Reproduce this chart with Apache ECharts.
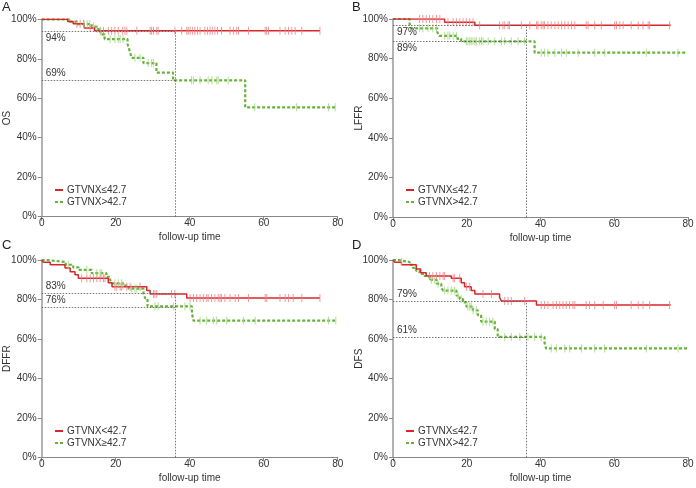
<!DOCTYPE html>
<html><head><meta charset="utf-8">
<script src="https://cdn.jsdelivr.net/npm/echarts@6/dist/echarts.min.js"></script>
<style>html,body{margin:0;padding:0;background:#fff}#c{width:696px;height:488px}</style>
</head><body><div id="c"></div>
<script>
// ---- Panel A: OS ----
const A_red_t = [0, 7, 8.5, 11.5, 14.3];
const A_red_s = [100, 98.9, 97.8, 95.6, 94.2];
const A_red_end = 75.2;
const A_red_c = [9.5,10.4,11.3,13.1,15.8,16.7,18,18.9,19.8,20.7,21.9,22.5,23,25.7,29.3,29.7,30.2,31.1,31.5,36,37.8,39.2,39.6,40.1,40.8,41.4,42.1,42.8,44.1,44.8,45.5,46.1,46.8,47.5,48.6,50.9,51.8,52.7,53.2,55.9,60.4,60.8,61.3,64.4,65.8,66.7,67.6,68.5,70.3,75.2];
const A_grn_t = [0, 7.5, 9.5, 13.5, 14.8, 15.5, 16.3, 17, 23.2, 23.6, 24, 24.3, 27.5, 31, 35.5, 55];
const A_grn_s = [100, 98.8, 97.6, 96.3, 95, 93.7, 92.4, 90, 87.5, 85, 82.5, 80.5, 77.8, 73, 69.1, 55.4];
const A_grn_end = 79.7;
const A_grn_c = [11.5,12.3,13,14,15,16,18.5,19.8,20.7,21.2,22,25.2,26.6,28.8,29.7,30.2,40.5,41,42.8,45,46,47.3,47.7,50.4,57.6,68.9,77.5,79.3];
const A_ref = [94, 69];

// ---- Panel B: LFFR ----
const B_red_t = [0, 14, 22.2];
const B_red_s = [100, 98.3, 96.8];
const B_red_end = 75.3;
const B_red_c = [7.2,8.1,9,9.9,10.8,11.8,12.7,14.9,16.3,17.2,18.1,19,19.9,20.8,21.7,23.5,28.9,29.8,30.3,31.2,31.6,34.8,37.1,38.9,39.3,40.2,40.7,41.1,42,42.9,43.9,44.8,45.7,46.6,47.5,48.4,49.3,52.4,52.9,54.7,56.5,60.1,60.6,61.5,62.4,64.6,66.5,67.8,69.2,69.6,75];
const B_grn_t = [0, 4.5, 5, 12, 12.5, 17.5, 18.5, 38.4];
const B_grn_s = [100, 97.5, 95.3, 93.5, 91.5, 90, 88.7, 83];
const B_grn_end = 79.8;
const B_grn_c = [7.2,8.1,9.5,10.8,11.8,14,14.9,15.4,16.3,17.2,19.9,20.3,20.8,21.2,21.7,22.2,22.6,23.5,24,24.4,25.8,27.6,29.4,30.3,32.1,33.9,35.7,40.2,41.1,42,43.9,45.7,47,50.2,54.7,57.4,68.7,77.3];
const B_ref = [97, 89];

// ---- Panel C: DFFR ----
const C_red_t = [0, 0.5, 2.3, 6.3, 7.7, 9, 9.9, 18, 19, 28.4, 29.3, 39.2];
const C_red_s = [100, 98.8, 97.6, 96, 94, 92.5, 90.7, 88.5, 86.5, 84.5, 82.8, 80.7];
const C_red_end = 75.2;
const C_red_c = [10.8,12.2,13.1,14,14.9,15.8,16.7,17.1,19.8,20.3,21.2,21.6,23,23.9,26.6,30.2,30.6,31.1,35.1,36,40.1,41,41.9,42.8,43.7,44.6,45,45.9,46.8,47.7,48.2,48.6,49.5,50.9,52.3,53.2,55.9,60.4,60.8,64.4,65.8,66.7,68,70.3,75.2];
const C_grn_t = [0, 1.5, 6.5, 8.5, 10, 13.5, 17.5, 18.5, 19, 22, 23.5, 27.5, 28, 28.6, 40.6, 41];
const C_grn_s = [100, 99, 97.6, 96.3, 95, 93.3, 91.5, 89.8, 88.2, 87, 85.5, 83, 80.5, 76.5, 73, 69.3];
const C_grn_end = 79.7;
const C_grn_c = [7.2,12.2,14.9,15.8,16.2,19.8,20.7,21.6,22,24.3,25.2,25.7,30.6,31.5,35.6,38.7,40.1,42.8,44.6,46.4,47.3,50,54.5,57.7,77.5,79.5];
const C_ref = [83, 76];

// ---- Panel D: DFS ----
const D_red_t = [0, 0.5, 2.3, 6.3, 7.5, 9, 15.8, 18.5, 19.4, 21.2, 22.2, 28.9, 29.4, 38.9];
const D_red_s = [100, 98.8, 97.6, 95.5, 93.5, 91.9, 90.7, 88.5, 86.5, 84.5, 82.8, 81, 79.2, 77.2];
const D_red_end = 75.3;
const D_red_c = [9.9,10.8,11.8,12.7,13.6,14,16.3,16.7,18.1,19.9,20.8,24.4,26.7,30.3,31.2,32.1,35.7,40.2,41.1,42,43.4,44.3,45.2,46.1,47,47.9,48.8,49.3,52.4,53.3,54.7,57,60.1,60.6,64.6,66.5,67.8,69.6,75];
const D_grn_t = [0, 1.4, 4.5, 5.4, 6.3, 7.2, 8.1, 9.9, 11.8, 13.1, 13.6, 17.2, 18.1, 19, 19.9, 21.7, 23, 23.9, 27.6, 28.4, 41.1, 41.5];
const D_grn_s = [100, 99, 97.5, 96, 94.5, 93, 91.9, 90, 88, 86, 84.5, 82, 80.2, 78.5, 76.4, 74.5, 72, 68.8, 65, 61, 58, 55.2];
const D_grn_end = 79.8;
const D_grn_c = [2.3,10.4,11.3,12.2,14,14.9,15.8,16.7,17.6,18.5,20.3,20.8,21.2,21.7,22.6,24.4,25.3,26.2,27.1,30.3,32.1,34.4,36.6,38.4,40.2,42.9,44.3,46.6,47.9,51.1,54.7,57.4,68.7,77.3];
const D_ref = [79, 61];

const refTime = 36;
const panelLetters = ['A', 'B', 'C', 'D'];
const yNames = ['OS', 'LFFR', 'DFFR', 'DFS'];
const legendNames = [
  ['GTVNX≤42.7', 'GTVNX>42.7'],
  ['GTVNX≤42.7', 'GTVNX>42.7'],
  ['GTVNX<42.7', 'GTVNX≥42.7'],
  ['GTVNX≤42.7', 'GTVNX>42.7']
];

const panels = [
  {rt:A_red_t, rs:A_red_s, re:A_red_end, rc:A_red_c, gt:A_grn_t, gs:A_grn_s, ge:A_grn_end, gc:A_grn_c, ref:A_ref, below:[true,false]},
  {rt:B_red_t, rs:B_red_s, re:B_red_end, rc:B_red_c, gt:B_grn_t, gs:B_grn_s, ge:B_grn_end, gc:B_grn_c, ref:B_ref, below:[true,true]},
  {rt:C_red_t, rs:C_red_s, re:C_red_end, rc:C_red_c, gt:C_grn_t, gs:C_grn_s, ge:C_grn_end, gc:C_grn_c, ref:C_ref, below:[false,false]},
  {rt:D_red_t, rs:D_red_s, re:D_red_end, rc:D_red_c, gt:D_grn_t, gs:D_grn_s, ge:D_grn_end, gc:D_grn_c, ref:D_ref, below:[false,false]}
];

const RED = '#d9262c', RED_C = '#ee8080', GRN = '#66b23a', GRN_C = '#a3d47f';
const FONT = 'Liberation Sans';
const FS = 10;

function stepData(t, s, end) {
  const d = t.map((x, i) => [x, s[i]]);
  d.push([end, s[s.length - 1]]);
  return d;
}
function survAt(t, s, x) {
  let v = s[0];
  for (let i = 0; i < t.length; i++) if (t[i] <= x) v = s[i];
  return v;
}

const grids = [
  {left: 41.7, right: 358.3, top: 19.3, bottom: 271.3, outerBoundsMode: 'none', containLabel: false},
  {left: 393, right: 8, top: 19, bottom: 271, outerBoundsMode: 'none', containLabel: false},
  {left: 41.7, right: 358.3, top: 260, bottom: 30.7, outerBoundsMode: 'none', containLabel: false},
  {left: 393, right: 8, top: 260, bottom: 30.7, outerBoundsMode: 'none', containLabel: false}
];
const legendPos = [
  {left: 54, top: 185}, {left: 405, top: 185},
  {left: 54, top: 426}, {left: 405, top: 426}
];
const letterPos = [[2, 1], [352, 1], [2, 239], [352, 239]];

const xAxis = [], yAxis = [], series = [], legend = [], graphic = [];
panels.forEach((p, i) => {
  xAxis.push({
    gridIndex: i, type: 'value', min: 0, max: 80, interval: 20,
    name: 'follow-up time', nameLocation: 'middle', nameGap: 16, nameMoveOverlap: false,
    nameTextStyle: {color: '#333', fontSize: FS, fontFamily: FONT},
    axisLine: {lineStyle: {color: '#888', width: 1}},
    axisTick: {show: true, length: 4, lineStyle: {color: '#888'}},
    axisLabel: {color: '#333', fontSize: FS, fontFamily: FONT, margin: 2},
    splitLine: {show: false}
  });
  yAxis.push({
    gridIndex: i, type: 'value', min: 0, max: 100, interval: 20,
    name: yNames[i], nameLocation: 'middle', nameGap: 29, nameMoveOverlap: false,
    nameTextStyle: {color: '#333', fontSize: FS, fontFamily: FONT},
    axisLine: {show: true, lineStyle: {color: '#999', width: 1.5}},
    axisTick: {show: true, length: 4, lineStyle: {color: '#888'}},
    axisLabel: {color: '#333', fontSize: FS, fontFamily: FONT, margin: 5, formatter: '{value}%'},
    splitLine: {show: false}
  });
  const [nr, ng] = legendNames[i];
  const refHi = Math.max(p.ref[0], p.ref[1]);
  const lbl = (v, below) => ({show: true, formatter: v + '%', position: below ? 'insideStartBottom' : 'insideStartTop',
    distance: [4, 2], color: '#333', fontSize: FS, fontFamily: FONT});
  series.push({
    type: 'line', xAxisIndex: i, yAxisIndex: i, data: [], silent: true,
    markLine: {
      symbol: 'none', silent: true, animation: false,
      lineStyle: {color: '#555', width: 0.8, type: [1.5, 1.5]},
      data: [
        [{coord: [0, p.ref[0]], label: lbl(p.ref[0], p.below[0])}, {coord: [refTime, p.ref[0]]}],
        [{coord: [0, p.ref[1]], label: lbl(p.ref[1], p.below[1])}, {coord: [refTime, p.ref[1]]}],
        [{coord: [refTime, 0], label: {show: false}}, {coord: [refTime, refHi]}]
      ]
    }
  });
  series.push({
    name: nr, type: 'line', xAxisIndex: i, yAxisIndex: i, step: 'end', symbol: 'none',
    data: stepData(p.rt, p.rs, p.re), color: RED,
    lineStyle: {color: RED, width: 1.5}, z: 3, animation: false
  });
  series.push({
    name: ng, type: 'line', xAxisIndex: i, yAxisIndex: i, step: 'end', symbol: 'none',
    data: stepData(p.gt, p.gs, p.ge), color: GRN,
    lineStyle: {color: GRN, width: 2.2, type: [3, 2]}, z: 2, animation: false
  });
  series.push({
    type: 'scatter', xAxisIndex: i, yAxisIndex: i, symbol: 'rect', symbolSize: [1, 8],
    itemStyle: {color: RED_C}, z: 4, silent: true, animation: false,
    data: p.rc.map(x => [x, survAt(p.rt, p.rs, x)])
  });
  series.push({
    type: 'scatter', xAxisIndex: i, yAxisIndex: i, symbol: 'rect', symbolSize: [1, 8],
    itemStyle: {color: GRN_C}, z: 4, silent: true, animation: false,
    data: p.gc.map(x => [x, survAt(p.gt, p.gs, x)])
  });
  legend.push({
    data: [nr, ng], orient: 'vertical', left: legendPos[i].left, top: legendPos[i].top,
    itemWidth: 8, itemHeight: 8, itemGap: 2, padding: 0, selectedMode: false,
    itemStyle: {opacity: 0},
    textStyle: {color: '#333', fontSize: FS, fontFamily: FONT, padding: [0, 0, 0, -1]}
  });
  graphic.push({type: 'text', left: letterPos[i][0], top: letterPos[i][1],
    style: {text: panelLetters[i], font: '13px ' + FONT, fill: '#222'}});
});

const chart = echarts.init(document.getElementById('c'), null, {renderer: 'canvas'});
chart.setOption({
  animation: false,
  backgroundColor: '#fff',
  grid: grids, xAxis, yAxis, series, legend, graphic
});
</script>
</body></html>
